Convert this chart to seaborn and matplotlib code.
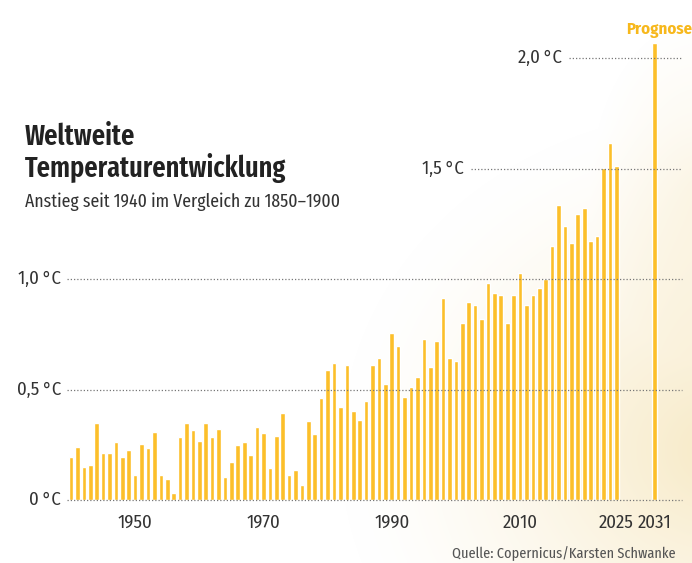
import numpy as np
import pandas as pd
import matplotlib
matplotlib.use("Agg")
import matplotlib.pyplot as plt
import matplotlib.transforms as mtransforms
import seaborn as sns

# data (anomaly vs. 1850-1900, deg C)
years = list(range(1940, 2026)) + [2031]
anomaly = [
    0.196, 0.241, 0.148, 0.157, 0.348, 0.213, 0.213, 0.262, 0.196, 0.228,
    0.115, 0.252, 0.237, 0.309, 0.115, 0.094, 0.033, 0.285, 0.350, 0.315,
    0.268, 0.350, 0.285, 0.323, 0.106, 0.171, 0.250, 0.264, 0.202, 0.330,
    0.302, 0.145, 0.290, 0.395, 0.112, 0.134, 0.066, 0.356, 0.297, 0.460,
    0.588, 0.618, 0.419, 0.611, 0.403, 0.362, 0.449, 0.611, 0.641, 0.526,
    0.754, 0.695, 0.467, 0.511, 0.556, 0.728, 0.600, 0.721, 0.912, 0.642,
    0.631, 0.799, 0.897, 0.882, 0.817, 0.983, 0.937, 0.927, 0.799, 0.927,
    1.026, 0.881, 0.927, 0.959, 1.000, 1.150, 1.337, 1.239, 1.162, 1.295,
    1.320, 1.172, 1.195, 1.502, 1.615, 1.510,
    2.070,
]
tick_years = [1950, 1970, 1990, 2010, 2025, 2031]
grid_levels = [0.0, 0.5, 1.0, 1.5, 2.0]
grid_labels = ["0\u2009°C", "0,5\u2009°C", "1,0\u2009°C", "1,5\u2009°C", "2,0\u2009°C"]

df = pd.DataFrame({"Jahr": years, "Anstieg": anomaly})

bar_color = "#FCBF2A"
text_color = "#333333"

sns.set_theme(style="white")
plt.rcParams["font.family"] = ["Fira Sans Condensed", "Roboto", "DejaVu Sans"]
narrow = ["Fira Sans Extra Condensed", "Fira Sans Condensed", "DejaVu Sans"]

W, H = 692, 563
fig = plt.figure(figsize=(W / 100, H / 100), dpi=100)

# warm background glow, lower right
bg = fig.add_axes([0, 0, 1, 1], zorder=-1)
yy, xx = np.mgrid[0:H, 0:W]
d1 = np.hypot((xx - 720) / 380.0, (yy - 450) / 340.0)
d2 = np.hypot((xx - 700) / 110.0, (yy - 190) / 170.0)
a = np.clip(1 - d1, 0, 1) ** 1.4 * 0.85 + np.clip(1 - d2, 0, 1) * 0.3
a = np.clip(a, 0, 1)
warm = np.array([246, 230, 188]) / 255.0
img = np.ones((H, W, 3)) * (1 - a[..., None]) + warm * a[..., None]
bg.imshow(img, aspect="auto", extent=[0, 1, 0, 1], origin="upper")
bg.axis("off")

# main axes: baseline (0 deg C) sits at 500 px from top
ax = fig.add_axes([0, (H - 500) / H, 1, 500 / H])
ax.set_facecolor("none")
sns.barplot(data=df, x="Jahr", y="Anstieg", native_scale=True, color=bar_color,
            saturation=1, width=0.72, ax=ax, zorder=2)

px_per_year = 6.415
x0 = 1940 - 71 / px_per_year
ax.set_xlim(x0, x0 + W / px_per_year)
ax.set_ylim(0, 500 / 221)

sns.despine(ax=ax, left=True, bottom=True, top=True, right=True)
ax.set_xlabel("")
ax.set_ylabel("")
ax.set_yticks([])
ax.set_xticks(tick_years)
ax.set_xticklabels([str(y) for y in tick_years], fontsize=13.5, color=text_color)
ax.tick_params(axis="x", length=0, pad=10)
ax.grid(False)

# dotted reference lines with inline labels
trans = mtransforms.blended_transform_factory(ax.transAxes, ax.transData)
line_start = [67, 67, 67, 471, 569]
label_right = [61, 61, 61, 464, 562]
for lev, lab, xs, xr in zip(grid_levels, grid_labels, line_start, label_right):
    ax.axhline(lev, xmin=xs / W, xmax=682 / W, color="#777777", lw=0.9,
               ls=(0, (1, 1.6)), zorder=3, clip_on=False)
    ax.text(xr / W, lev, lab, transform=trans, ha="right", va="center",
            fontsize=13.5, color=text_color)

# prognosis label
fig.text(1.0, 1 - 33.5 / H, "Prognose", ha="right", va="baseline",
         fontsize=12, fontweight="bold", color="#F7B81C")

# titles
fig.text(25 / W, 1 - 145 / H, "Weltweite", ha="left", va="baseline", family=narrow,
         fontsize=20.5, fontweight="semibold", color="#222222")
fig.text(25 / W, 1 - 177 / H, "Temperaturentwicklung", ha="left", va="baseline", family=narrow,
         fontsize=20.5, fontweight="semibold", color="#222222")
fig.text(25 / W, 1 - 207 / H, "Anstieg seit 1940 im Vergleich zu 1850–1900", family=narrow,
         ha="left", va="baseline", fontsize=13.8, color=text_color)

fig.text(676 / W, 1 - 558 / H, "Quelle: Copernicus/Karsten Schwanke", family=narrow,
         ha="right", va="baseline", fontsize=11.2, color="#555555")

fig.savefig("out.png", dpi=100)
plt.close(fig)
